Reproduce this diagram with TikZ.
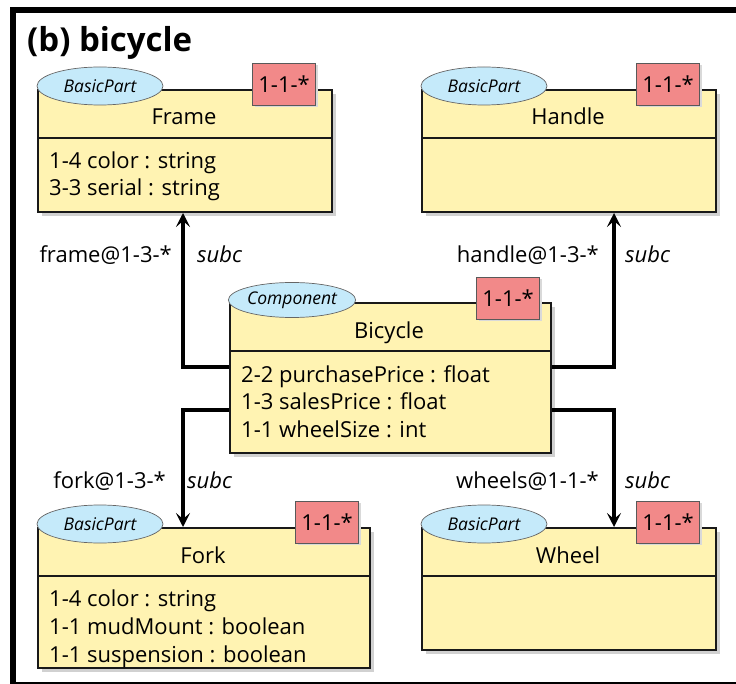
\documentclass[tikz,border=0pt]{standalone}
\usepackage{fontspec}
\setmainfont{Open Sans}
\usetikzlibrary{shapes.geometric,shadows,arrows.meta}
\definecolor{clsfill}{RGB}{255,243,178}
\definecolor{stfill}{RGB}{197,234,250}
\definecolor{mfill}{RGB}{242,137,137}
\definecolor{bordc}{RGB}{25,25,25}
\tikzset{
  classbox/.style={draw=bordc, line width=2pt, fill=clsfill, anchor=north west, inner sep=0pt,
     drop shadow={shadow xshift=4pt, shadow yshift=-4pt, fill=black!18, opacity=1}},
  divline/.style={draw=bordc, line width=2pt},
  stereo/.style={ellipse, draw=black!60, line width=0.7pt, fill=stfill, minimum width=126pt, minimum height=38pt, inner sep=0pt, font=\fontsize{17.5pt}{19pt}\selectfont\itshape},
  mult/.style={draw=black!65, line width=0.8pt, fill=mfill, minimum width=63pt, minimum height=42pt, inner sep=0pt, anchor=north east,
     drop shadow={shadow xshift=2pt, shadow yshift=-2pt, fill=black!15, opacity=1}, font=\fontsize{22pt}{26pt}\selectfont},
  txt/.style={inner sep=0pt, font=\fontsize{22pt}{26pt}\selectfont},
  conn/.style={line width=4pt, -{Stealth[length=14pt,width=14pt,inset=6pt]}},
}
\begin{document}
\begin{tikzpicture}[x=1pt,y=-1pt]
\useasboundingbox (0,0) rectangle (736,684);
% outer frame
\draw[line width=6pt] (13,684) -- (13,10) -- (736,10);
\draw[line width=2pt] (10,682.5) -- (736,682.5);
\node[txt, anchor=base west, font=\fontsize{33pt}{36pt}\selectfont\bfseries] (title) at (27,52) {(b) bicycle};

% class boxes
\node[classbox, minimum width=294pt, minimum height=122pt] (frame) at (37,89) {};
\node[classbox, minimum width=294pt, minimum height=122pt] (handle) at (421,89) {};
\node[classbox, minimum width=321pt, minimum height=150pt] (bicycle) at (229,302) {};
\node[classbox, minimum width=332pt, minimum height=140pt] (fork) at (37,527) {};
\node[classbox, minimum width=294pt, minimum height=122pt] (wheel) at (421,527) {};

% dividers
\draw[divline] (37,138) -- (331,138);
\draw[divline] (421,138) -- (715,138);
\draw[divline] (229,351) -- (550,351);
\draw[divline] (37,576) -- (369,576);
\draw[divline] (421,576) -- (715,576);

% stereotypes
\node[stereo] (frameS) at ([xshift=63pt,yshift=3pt]frame.north west) {BasicPart};
\node[stereo] (handleS) at ([xshift=63pt,yshift=3pt]handle.north west) {BasicPart};
\node[stereo, minimum height=35pt] (bicycleS) at ([xshift=63pt,yshift=2pt]bicycle.north west) {Component};
\node[stereo] (forkS) at ([xshift=63pt,yshift=3pt]fork.north west) {BasicPart};
\node[stereo] (wheelS) at ([xshift=63pt,yshift=3pt]wheel.north west) {BasicPart};

% multiplicities
\node[mult] (frameM) at ([xshift=-17pt,yshift=26pt]frame.north east) {1-1-*};
\node[mult] (handleM) at ([xshift=-17pt,yshift=26pt]handle.north east) {1-1-*};
\node[mult] (bicycleM) at ([xshift=-12pt,yshift=25pt]bicycle.north east) {1-1-*};
\node[mult] (forkM) at ([xshift=-12pt,yshift=26pt]fork.north east) {1-1-*};
\node[mult] (wheelM) at ([xshift=-17pt,yshift=26pt]wheel.north east) {1-1-*};

% names
\node[txt, anchor=base] (frameN) at (184,125) {Frame};
\node[txt, anchor=base] (handleN) at (568,125) {Handle};
\node[txt, anchor=base] (bicycleN) at (389,339) {Bicycle};
\node[txt, anchor=base] (forkN) at (203,563) {Fork};
\node[txt, anchor=base] (wheelN) at (568,563) {Wheel};

% attributes
\node[txt, anchor=base west] (fa1) at (49,169) {1-4 color : string};
\node[txt, anchor=base west] (fa2) at (49,196) {3-3 serial : string};
\node[txt, anchor=base west] (ba1) at (241,382) {2-2 purchasePrice : float};
\node[txt, anchor=base west] (ba2) at (241,409.5) {1-3 salesPrice : float};
\node[txt, anchor=base west] (ba3) at (241,437) {1-1 wheelSize : int};
\node[txt, anchor=base west] (ka1) at (49,606) {1-4 color : string};
\node[txt, anchor=base west] (ka2) at (49,634) {1-1 mudMount : boolean};
\node[txt, anchor=base west] (ka3) at (49,662) {1-1 suspension : boolean};

% connectors
\draw[conn] ([yshift=11pt]bicycle.west) -| ([xshift=-2pt]frame.south);
\draw[conn] ([yshift=-32pt]bicycle.west) -| ([xshift=-21pt]fork.north);
\draw[conn] ([yshift=11pt]bicycle.east) -| ([xshift=45pt]handle.south);
\draw[conn] ([yshift=-32pt]bicycle.east) -| ([xshift=45pt]wheel.north);

% connector labels
\node[txt, anchor=base east] (l1) at (172,263) {frame@1-3-*};
\node[txt, anchor=base west, font=\fontsize{22pt}{26pt}\selectfont\itshape] (s1) at (197,263) {subc};
\node[txt, anchor=base east] (l2) at (599,263) {handle@1-3-*};
\node[txt, anchor=base west, font=\fontsize{22pt}{26pt}\selectfont\itshape] (s2) at (625,263) {subc};
\node[txt, anchor=base east] (l3) at (166,488) {fork@1-3-*};
\node[txt, anchor=base west, font=\fontsize{22pt}{26pt}\selectfont\itshape] (s3) at (187,488) {subc};
\node[txt, anchor=base east] (l4) at (599,488) {wheels@1-1-*};
\node[txt, anchor=base west, font=\fontsize{22pt}{26pt}\selectfont\itshape] (s4) at (625,488) {subc};
\end{tikzpicture}
\end{document}
